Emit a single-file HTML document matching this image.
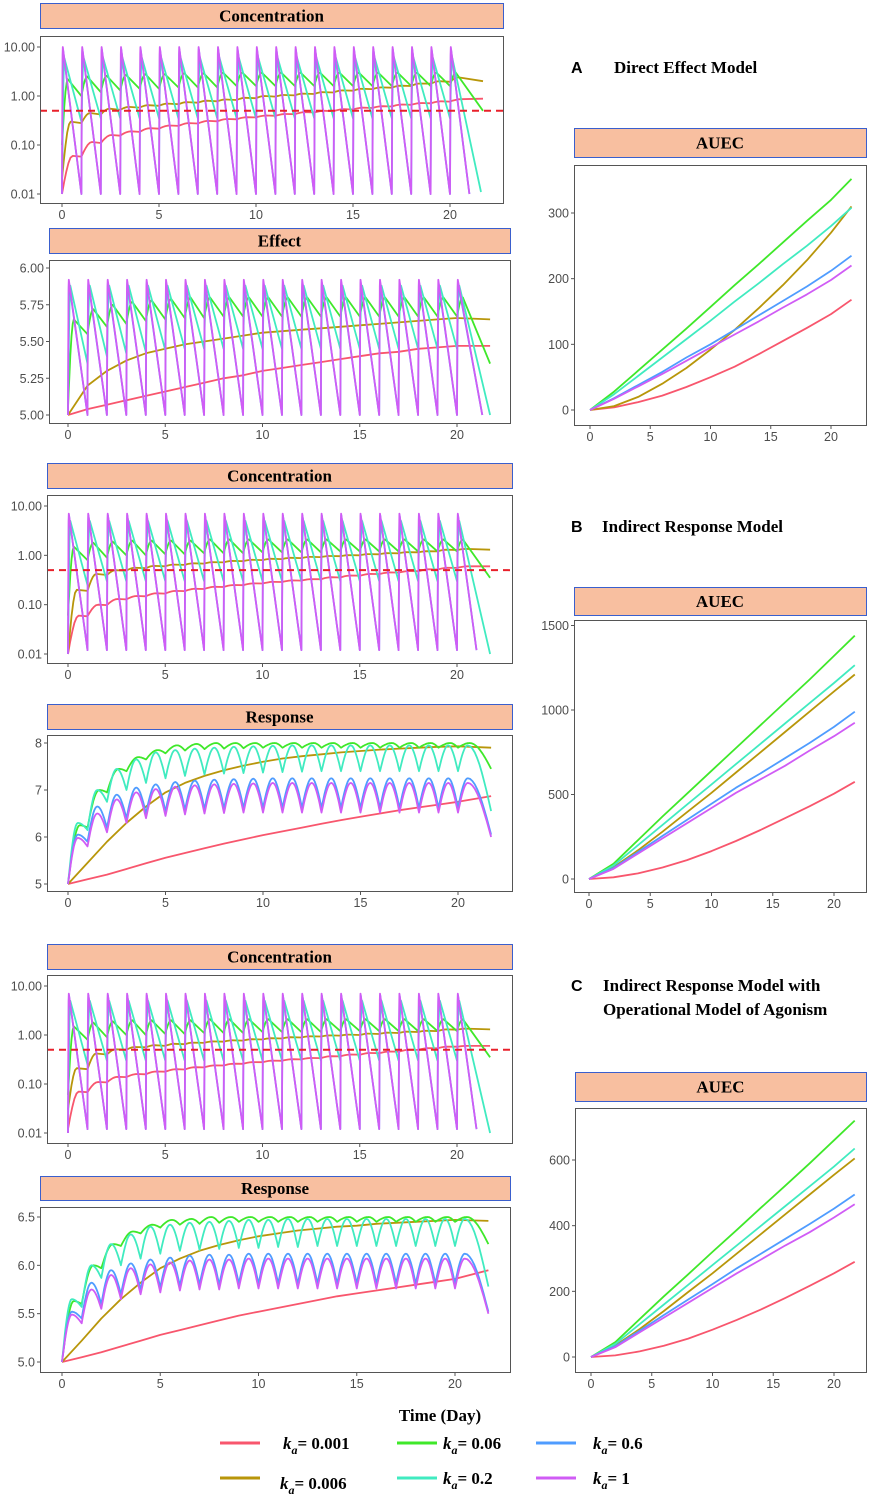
<!DOCTYPE html>
<html><head><meta charset="utf-8"><title>PK/PD model simulations</title>
<style>
html,body{margin:0;padding:0;background:#fff;}
svg{display:block;}
</style></head>
<body>
<svg id="fig" width="872" height="1494" viewBox="0 0 872 1494" xmlns="http://www.w3.org/2000/svg">
<rect x="0" y="0" width="872" height="1494" fill="#fff"/>
<g font-family="'Liberation Sans',sans-serif" font-weight="bold">
<text x="571" y="73" font-size="16">A</text>
<text x="571" y="532" font-size="16">B</text>
<text x="571" y="991" font-size="16">C</text>
</g>
<g font-family="'Liberation Serif',serif" font-weight="bold" font-size="17" fill="#000">
<text x="614" y="73">Direct Effect Model</text>
<text x="602" y="532">Indirect Response Model</text>
<text x="603" y="991">Indirect Response Model with</text>
<text x="603" y="1015">Operational Model of Agonism</text>
<text x="440" y="1421" text-anchor="middle">Time (Day)</text>
</g>
<g id="legend" font-family="'Liberation Serif',serif" font-weight="bold" font-size="17"></g>
</svg>
<script>
// ---------- Data ----------
const days = [0,1,2,3,4,5,6,7,8,9,10,11,12,13,14,15,16,17,18,19,20];
const xTicks = [0,5,10,15,20];
const seriesNames = ['ka=0.001','ka=0.006','ka=0.06','ka=0.2','ka=0.6','ka=1'];
const colors = ['#F8566D','#B8960A','#3FE82A','#40EBC0','#4F9CFF','#D05CF5'];

// Concentration A
const concA_pink_tr  = [0.01,0.058,0.11,0.155,0.185,0.215,0.245,0.275,0.305,0.335,0.365,0.395,0.425,0.46,0.49,0.53,0.57,0.61,0.66,0.71,0.77,0.88];
const concA_pink_pk  = [0.06,0.115,0.16,0.19,0.22,0.25,0.28,0.31,0.34,0.37,0.4,0.43,0.47,0.5,0.54,0.58,0.62,0.67,0.72,0.78,0.86];
const concA_olive_tr = [0.02,0.28,0.42,0.52,0.58,0.63,0.68,0.73,0.78,0.83,0.9,0.97,1.03,1.1,1.18,1.28,1.38,1.48,1.6,1.78,1.95,2.0];
const concA_olive_pk = [0.3,0.45,0.55,0.6,0.65,0.7,0.75,0.8,0.85,0.92,1.0,1.05,1.12,1.2,1.3,1.4,1.5,1.62,1.8,2.0,2.4];
const concA_green_tr = [0.1,1.0,1.2,1.3,1.4,1.4,1.5,1.5,1.5,1.6,1.6,1.6,1.6,1.6,1.6,1.6,1.6,1.6,1.6,1.6,1.6,0.5];
const concA_green_pk = [2.2,2.5,2.6,2.7,2.8,2.8,2.9,2.9,3,3,3,3,3,3,3,3,3,3,3,3,3];
const concA_aqua_tr  = [0.01,0.3,0.35,0.35,0.35,0.35,0.35,0.35,0.35,0.35,0.35,0.35,0.35,0.35,0.35,0.35,0.35,0.35,0.35,0.35,0.35,0.011];
const concA_aqua_pk  = [6,6,6,6,6,6,6,6,6,6,6,6,6,6,6,6,6,6,6,6,6];
const concA_blue_tr  = [0.01,0.01,0.01,0.01,0.01,0.01,0.01,0.01,0.01,0.01,0.01,0.01,0.01,0.01,0.01,0.01,0.01,0.01,0.01,0.01,0.01,0.01];
const concA_blue_pk  = [9,9,9,9,9,9,9,9,9,9,9,9,9,9,9,9,9,9,9,9,9];
const concA_purple_tr= [0.01,0.01,0.01,0.01,0.01,0.01,0.01,0.01,0.01,0.01,0.01,0.01,0.01,0.01,0.01,0.01,0.01,0.01,0.01,0.01,0.01,0.01];
const concA_purple_pk= [10,10,10,10,10,10,10,10,10,10,10,10,10,10,10,10,10,10,10,10,10];
const concThreshold = 0.5;

// Effect A
const effA_pink_tr  = [5.0,5.04,5.07,5.1,5.13,5.16,5.19,5.22,5.25,5.27,5.3,5.32,5.34,5.36,5.38,5.4,5.42,5.43,5.45,5.46,5.47,5.47];
const effA_olive_tr = [5.0,5.2,5.3,5.37,5.42,5.45,5.48,5.5,5.52,5.54,5.56,5.57,5.58,5.59,5.6,5.61,5.62,5.63,5.64,5.65,5.66,5.65];
const effA_green_tr = [5.05,5.55,5.6,5.62,5.64,5.65,5.66,5.66,5.67,5.67,5.67,5.67,5.67,5.67,5.67,5.67,5.67,5.67,5.67,5.67,5.67,5.35];
const effA_green_pk = [5.65,5.72,5.75,5.77,5.78,5.79,5.8,5.8,5.8,5.8,5.8,5.8,5.8,5.8,5.8,5.8,5.8,5.8,5.8,5.8,5.8];
const effA_aqua_tr  = [5.0,5.35,5.4,5.42,5.43,5.44,5.45,5.45,5.45,5.45,5.45,5.45,5.45,5.45,5.45,5.45,5.45,5.45,5.45,5.45,5.45,5.0];
const effA_aqua_pk  = [5.88,5.88,5.88,5.88,5.88,5.88,5.88,5.88,5.88,5.88,5.88,5.88,5.88,5.88,5.88,5.88,5.88,5.88,5.88,5.88,5.88];
const effA_blue_tr  = [5,5,5,5,5,5,5,5,5,5,5,5,5,5,5,5,5,5,5,5,5,5];
const effA_blue_pk  = [5.9,5.9,5.9,5.9,5.9,5.9,5.9,5.9,5.9,5.9,5.9,5.9,5.9,5.9,5.9,5.9,5.9,5.9,5.9,5.9,5.9];
const effA_purple_tr= [5,5,5,5,5,5,5,5,5,5,5,5,5,5,5,5,5,5,5,5,5,5];
const effA_purple_pk= [5.92,5.92,5.92,5.92,5.92,5.92,5.92,5.92,5.92,5.92,5.92,5.92,5.92,5.92,5.92,5.92,5.92,5.92,5.92,5.92,5.92];

// Concentration B
const concB_pink_tr  = [0.01,0.058,0.098,0.128,0.148,0.168,0.188,0.208,0.228,0.248,0.268,0.288,0.308,0.328,0.356,0.386,0.416,0.446,0.476,0.516,0.556,0.6];
const concB_pink_pk  = [0.06,0.1,0.13,0.15,0.17,0.19,0.21,0.23,0.25,0.27,0.29,0.31,0.33,0.36,0.39,0.42,0.45,0.48,0.52,0.56,0.6];
const concB_olive_tr = [0.01,0.19,0.4,0.49,0.55,0.6,0.64,0.68,0.72,0.76,0.8,0.84,0.88,0.92,0.96,1.0,1.05,1.1,1.15,1.2,1.28,1.3];
const concB_olive_pk = [0.2,0.42,0.5,0.56,0.61,0.65,0.69,0.73,0.77,0.81,0.85,0.89,0.93,0.97,1.01,1.06,1.11,1.16,1.21,1.3,1.35];
const concB_green_tr = [0.06,0.8,0.9,1.0,1.0,1.05,1.05,1.1,1.1,1.1,1.15,1.15,1.15,1.15,1.2,1.2,1.2,1.2,1.2,1.2,1.2,0.35];
const concB_green_pk = [1.5,1.8,1.9,2,2,2,2,2.1,2.1,2.1,2.1,2.1,2.1,2.1,2.1,2.1,2.1,2.1,2.1,2.1,2.1];
const concB_aqua_tr  = [0.01,0.25,0.3,0.3,0.3,0.3,0.3,0.3,0.3,0.3,0.3,0.3,0.3,0.3,0.3,0.3,0.3,0.3,0.3,0.3,0.3,0.01];
const concB_aqua_pk  = [5,5,5,5,5,5,5,5,5,5,5,5,5,5,5,5,5,5,5,5,5];
const concB_blue_tr  = [0.01,0.012,0.012,0.012,0.012,0.012,0.012,0.012,0.012,0.012,0.012,0.012,0.012,0.012,0.012,0.012,0.012,0.012,0.012,0.012,0.012,0.012];
const concB_blue_pk  = [6.5,6.5,6.5,6.5,6.5,6.5,6.5,6.5,6.5,6.5,6.5,6.5,6.5,6.5,6.5,6.5,6.5,6.5,6.5,6.5,6.5];
const concB_purple_tr= [0.01,0.012,0.012,0.012,0.012,0.012,0.012,0.012,0.012,0.012,0.012,0.012,0.012,0.012,0.012,0.012,0.012,0.012,0.012,0.012,0.012,0.012];
const concB_purple_pk= [7,7,7,7,7,7,7,7,7,7,7,7,7,7,7,7,7,7,7,7,7];

// Response B
const respB_pink_tr  = [5,5.1,5.2,5.32,5.44,5.56,5.66,5.76,5.86,5.95,6.04,6.12,6.2,6.28,6.36,6.43,6.5,6.57,6.63,6.69,6.75,6.87];
const respB_olive_tr = [5,5.45,5.9,6.3,6.65,6.95,7.15,7.3,7.42,7.52,7.6,7.67,7.72,7.76,7.8,7.83,7.86,7.88,7.9,7.92,7.93,7.9];
const respB_green_tr = [5,6.2,6.95,7.4,7.65,7.78,7.84,7.87,7.88,7.89,7.9,7.9,7.9,7.9,7.9,7.9,7.9,7.9,7.9,7.9,7.9,7.45];
const respB_green_pk = [6.25,7.0,7.45,7.7,7.85,7.95,7.98,8.0,8.0,8.0,8.0,8.0,8.0,8.0,8.0,8.0,8.0,8.0,8.0,8.0,8.0];
const respB_aqua_tr  = [5,6.15,6.75,7.0,7.15,7.25,7.3,7.33,7.35,7.36,7.37,7.38,7.39,7.4,7.4,7.4,7.4,7.4,7.4,7.4,7.4,6.55];
const respB_aqua_pk  = [6.3,7.0,7.45,7.65,7.8,7.85,7.88,7.9,7.92,7.93,7.94,7.95,7.95,7.95,7.95,7.95,7.95,7.95,7.95,7.95,7.95];
const respB_blue_tr  = [5,5.9,6.2,6.4,6.5,6.55,6.58,6.6,6.61,6.62,6.62,6.62,6.62,6.62,6.62,6.62,6.62,6.62,6.62,6.62,6.62,6.05];
const respB_blue_pk  = [6.05,6.65,6.9,7.05,7.12,7.17,7.2,7.22,7.23,7.24,7.25,7.25,7.25,7.25,7.25,7.25,7.25,7.25,7.25,7.25,7.25];
const respB_purple_tr= [5,5.8,6.1,6.3,6.4,6.45,6.48,6.5,6.51,6.52,6.52,6.52,6.52,6.52,6.52,6.52,6.52,6.52,6.52,6.52,6.52,6.0];
const respB_purple_pk= [5.98,6.5,6.8,6.95,7.02,7.07,7.1,7.12,7.13,7.14,7.15,7.15,7.15,7.15,7.15,7.15,7.15,7.15,7.15,7.15,7.15];

// Concentration C
const concC_pink_tr  = [0.012,0.068,0.108,0.138,0.158,0.178,0.198,0.218,0.238,0.258,0.278,0.298,0.318,0.338,0.366,0.396,0.426,0.456,0.496,0.536,0.576,0.6];
const concC_pink_pk  = [0.07,0.11,0.14,0.16,0.18,0.2,0.22,0.24,0.26,0.28,0.3,0.32,0.34,0.37,0.4,0.43,0.46,0.5,0.54,0.58,0.6];
const concC_olive_tr = [0.03,0.2,0.4,0.5,0.56,0.6,0.65,0.69,0.73,0.77,0.81,0.85,0.89,0.93,0.97,1.0,1.05,1.1,1.15,1.2,1.28,1.3];
const concC_olive_pk = [0.21,0.42,0.51,0.57,0.62,0.66,0.7,0.74,0.78,0.82,0.86,0.9,0.94,0.98,1.02,1.07,1.12,1.17,1.22,1.3,1.35];
const concC_green_tr = [0.06,0.8,0.9,1.0,1.0,1.05,1.05,1.1,1.1,1.1,1.15,1.15,1.15,1.15,1.2,1.2,1.2,1.2,1.2,1.2,1.2,0.35];
const concC_green_pk = [1.5,1.8,1.9,2,2,2,2,2.1,2.1,2.1,2.1,2.1,2.1,2.1,2.1,2.1,2.1,2.1,2.1,2.1,2.1];
const concC_aqua_tr  = [0.01,0.25,0.3,0.3,0.3,0.3,0.3,0.3,0.3,0.3,0.3,0.3,0.3,0.3,0.3,0.3,0.3,0.3,0.3,0.3,0.3,0.01];
const concC_aqua_pk  = [5,5,5,5,5,5,5,5,5,5,5,5,5,5,5,5,5,5,5,5,5];
const concC_blue_tr  = [0.01,0.012,0.012,0.012,0.012,0.012,0.012,0.012,0.012,0.012,0.012,0.012,0.012,0.012,0.012,0.012,0.012,0.012,0.012,0.012,0.012,0.012];
const concC_blue_pk  = [6.5,6.5,6.5,6.5,6.5,6.5,6.5,6.5,6.5,6.5,6.5,6.5,6.5,6.5,6.5,6.5,6.5,6.5,6.5,6.5,6.5];
const concC_purple_tr= [0.01,0.012,0.012,0.012,0.012,0.012,0.012,0.012,0.012,0.012,0.012,0.012,0.012,0.012,0.012,0.012,0.012,0.012,0.012,0.012,0.012,0.012];
const concC_purple_pk= [7,7,7,7,7,7,7,7,7,7,7,7,7,7,7,7,7,7,7,7,7];

// Response C
const respC_pink_tr  = [5,5.05,5.1,5.16,5.22,5.28,5.33,5.38,5.43,5.48,5.52,5.56,5.6,5.64,5.68,5.71,5.74,5.77,5.8,5.83,5.86,5.95];
const respC_olive_tr = [5,5.22,5.45,5.65,5.82,5.97,6.07,6.15,6.21,6.26,6.3,6.33,6.36,6.38,6.4,6.41,6.43,6.44,6.45,6.46,6.47,6.46];
const respC_green_tr = [5,5.6,5.97,6.2,6.33,6.39,6.42,6.43,6.44,6.45,6.45,6.45,6.45,6.45,6.45,6.45,6.45,6.45,6.45,6.45,6.45,6.22];
const respC_green_pk = [5.63,6.0,6.22,6.35,6.42,6.47,6.48,6.5,6.5,6.5,6.5,6.5,6.5,6.5,6.5,6.5,6.5,6.5,6.5,6.5,6.5];
const respC_aqua_tr  = [5,5.57,5.87,6.0,6.07,6.12,6.15,6.16,6.17,6.18,6.18,6.19,6.19,6.2,6.2,6.2,6.2,6.2,6.2,6.2,6.2,5.78];
const respC_aqua_pk  = [5.65,6.0,6.22,6.32,6.4,6.42,6.44,6.45,6.46,6.47,6.47,6.48,6.48,6.48,6.48,6.48,6.48,6.48,6.48,6.48,6.48];
const respC_blue_tr  = [5,5.45,5.6,5.7,5.75,5.77,5.79,5.8,5.8,5.81,5.81,5.81,5.81,5.81,5.81,5.81,5.81,5.81,5.81,5.81,5.81,5.52];
const respC_blue_pk  = [5.52,5.82,5.95,6.02,6.06,6.08,6.1,6.11,6.11,6.12,6.12,6.12,6.12,6.12,6.12,6.12,6.12,6.12,6.12,6.12,6.12];
const respC_purple_tr= [5,5.4,5.55,5.65,5.7,5.72,5.74,5.75,5.75,5.76,5.76,5.76,5.76,5.76,5.76,5.76,5.76,5.76,5.76,5.76,5.76,5.5];
const respC_purple_pk= [5.49,5.75,5.9,5.97,6.01,6.03,6.05,6.06,6.06,6.07,6.07,6.07,6.07,6.07,6.07,6.07,6.07,6.07,6.07,6.07,6.07];

// AUEC
const aDays = [0,2,4,6,8,10,12,14,16,18,20,21.7];
const aucA_pink   = [0,4,12,22,35,50,66,85,105,125,146,168];
const aucA_olive  = [0,6,20,40,64,92,122,155,190,228,270,310];
const aucA_green  = [0,28,60,92,124,157,190,222,255,288,320,352];
const aucA_aqua   = [0,24,52,80,108,136,165,193,222,250,280,308];
const aucA_blue   = [0,18,38,58,80,100,122,144,166,188,212,235];
const aucA_purple = [0,17,36,55,75,95,115,135,156,176,198,220];
const aucB_pink   = [0,10,33,68,112,165,225,290,360,430,505,575];
const aucB_olive  = [0,70,170,280,395,510,630,750,870,990,1110,1210];
const aucB_green  = [0,90,230,370,505,640,775,910,1045,1180,1320,1440];
const aucB_aqua   = [0,80,200,320,440,560,680,800,920,1040,1160,1265];
const aucB_blue   = [0,65,160,255,350,445,540,625,715,805,900,990];
const aucB_purple = [0,60,150,240,330,420,510,590,670,760,845,925];
const aucC_pink   = [0,5,17,34,56,83,113,145,180,217,255,290];
const aucC_olive  = [0,35,85,140,198,255,315,375,435,495,555,605];
const aucC_green  = [0,45,115,185,252,320,387,455,522,590,660,720];
const aucC_aqua   = [0,40,100,160,220,280,340,400,460,520,580,635];
const aucC_blue   = [0,33,80,128,175,222,270,315,360,405,452,495];
const aucC_purple = [0,30,75,120,165,210,255,297,340,380,425,465];

const concTicks = [10,1,0.1,0.01];
const concTickLabels = ['10.00','1.00','0.10','0.01'];
const effTicks = [6,5.75,5.5,5.25,5];
const effTickLabels = ['6.00','5.75','5.50','5.25','5.00'];
const respBTicks = [8,7,6,5];
const respBTickLabels = ['8','7','6','5'];
const respCTicks = [6.5,6,5.5,5];
const respCTickLabels = ['6.5','6.0','5.5','5.0'];
const aucATicks = [300,200,100,0];
const aucBTicks = [1500,1000,500,0];
const aucCTicks = [600,400,200,0];

// ---------- Drawing ----------
const NS = 'http://www.w3.org/2000/svg';
const svg = document.getElementById('fig');
function mk(tag, attrs, parent){
  const e = document.createElementNS(NS, tag);
  for (const k in attrs) e.setAttribute(k, attrs[k]);
  (parent || svg).appendChild(e);
  return e;
}
let clipId = 0;

function makeY(m){
  if (m.log){
    const a = Math.log10(m.v1), b = Math.log10(m.v2);
    return v => m.p1 + (Math.log10(v) - a) / (b - a) * (m.p2 - m.p1);
  }
  return v => m.p1 + (v - m.v1) / (m.v2 - m.v1) * (m.p2 - m.p1);
}

function frame(cfg, X, Y){
  const [bx,by,bw,bh] = cfg.box;
  const [hx,hy,hw,hh,ht] = cfg.head;
  const g = mk('g', {});
  
  
  const hr = mk('rect', {x:hx+0.5, y:hy+0.5, width:hw, height:hh, fill:'#F8BFA0', stroke:'#3A5FCD', 'stroke-width':1}, g);
  
  
  const htx = mk('text', {x:hx+hw/2, y:hy+hh/2+6, 'text-anchor':'middle', 'font-family':"'Liberation Serif',serif", 'font-weight':'bold', 'font-size':17}, g);
  htx.textContent = ht;
  
  
  const br = mk('rect', {x:bx+0.5, y:by+0.5, width:bw, height:bh, fill:'#fff', stroke:'#555', 'stroke-width':1}, g);
  
  
  cfg.ticks.forEach((v,i) => {
    const py = Y(v);
    const tl = mk('line', {x1:bx-3, x2:bx, y1:py, y2:py, stroke:'#555', 'stroke-width':1}, g);
    
    
    const tt = mk('text', {x:bx-5, y:py+4.5, 'text-anchor':'end', 'font-family':"'Liberation Sans',sans-serif", 'font-size':12.5, fill:'#4d4d4d'}, g);
    tt.textContent = cfg.tickLabels[i];
    
    
  });
  xTicks.forEach(v => {
    const px = X(v);
    const tl = mk('line', {x1:px, x2:px, y1:by+bh+1, y2:by+bh+4, stroke:'#555', 'stroke-width':1}, g);
    
    
    const tt = mk('text', {x:px, y:by+bh+16, 'text-anchor':'middle', 'font-family':"'Liberation Sans',sans-serif", 'font-size':12.5, fill:'#4d4d4d'}, g);
    tt.textContent = String(v);
    
    
  });
  clipId++;
  const cp = mk('clipPath', {id:'cp'+clipId}, g);
  mk('rect', {x:bx+1, y:by+1, width:bw-1, height:bh-1}, cp);
  const lg = mk('g', {'clip-path':'url(#cp'+clipId+')'}, g);
  
  
  return lg;
}

function timePanel(cfg){
  const X = t => cfg.x0 + t / 20 * (cfg.x20 - cfg.x0);
  const Y = makeY(cfg.ymap);
  const lg = frame(cfg, X, Y);
  cfg.series.forEach(s => {
    const pts = [];
    const tr = s.tr, pk = s.pk;
    for (let i = 0; i < days.length; i++){
      const d = days[i];
      const t1 = i < days.length - 1 ? days[i+1] : s.tEnd;
      const L = t1 - d;
      const y0 = Y(tr[i]), y1 = Y(tr[i+1]);
      if (!pk){ pts.push([X(d), y0]); if (i === days.length-1) pts.push([X(t1), y1]); continue; }
      const yp = Y(pk[i]);
      if (cfg.mode === 'saw'){
        const r = Math.min(s.rise, L*0.9);
        for (let k = 0; k <= 5; k++){ const f = k/5; pts.push([X(d + r*f), y0 + (yp-y0)*Math.sin(Math.PI/2*f)]); }
        pts.push([X(t1), y1]);
      } else {
        const p = s.rise * (i < days.length-1 ? 1 : 1/L);
        const N = 10;
        for (let k = 0; k <= N; k++){ const f = k/N*p; pts.push([X(d + f*L), y0 + (yp-y0)*Math.sin(Math.PI/2*k/N)]); }
        for (let k = 1; k <= N; k++){ const f = p + k/N*(1-p); pts.push([X(d + f*L), yp + (y1-yp)*(1-Math.cos(Math.PI/2*k/N))]); }
      }
    }
    const pl = mk('polyline', {points: pts.map(p => p[0].toFixed(1)+','+p[1].toFixed(1)).join(' '), fill:'none', stroke:s.color, 'stroke-width':1.8, 'stroke-linejoin':'round'}, lg);
    
    
  });
  if (cfg.hline !== undefined){
    const py = Y(cfg.hline);
    const hl = mk('line', {x1:cfg.box[0], x2:cfg.box[0]+cfg.box[2], y1:py, y2:py, stroke:'#E8202A', 'stroke-width':2, 'stroke-dasharray':'7,5'}, lg);
    
    
  }
}

function aucPanel(cfg){
  const X = t => cfg.x0 + t / 20 * (cfg.x20 - cfg.x0);
  const Y = makeY(cfg.ymap);
  const lg = frame(cfg, X, Y);
  cfg.series.forEach(s => {
    const pl = mk('polyline', {points: aDays.map((t,i) => X(t).toFixed(1)+','+Y(s.v[i]).toFixed(1)).join(' '), fill:'none', stroke:s.color, 'stroke-width':1.8, 'stroke-linejoin':'round'}, lg);
    
    
  });
}

function S(i, tr, pk, rise, tEnd){ return {name:seriesNames[i], color:colors[i], tr:tr, pk:pk, rise:rise, tEnd:tEnd}; }

// Panel 1: Concentration A
timePanel({name:'concentration-panel-a', box:[40,36,463,167], head:[40,3,463,25,'Concentration'], x0:62, x20:450,
  ymap:{log:true, v1:10, p1:47, v2:0.01, p2:194}, ticks:concTicks, tickLabels:concTickLabels, mode:'saw', hline:concThreshold,
  series:[S(0,concA_pink_tr,concA_pink_pk,0.55,21.7), S(1,concA_olive_tr,concA_olive_pk,0.45,21.7), S(2,concA_green_tr,concA_green_pk,0.3,21.7),
          S(3,concA_aqua_tr,concA_aqua_pk,0.12,21.6), S(4,concA_blue_tr,concA_blue_pk,0.05,21.0), S(5,concA_purple_tr,concA_purple_pk,0.04,21.0)]});
// Panel 2: Effect A
timePanel({name:'effect-panel-a', box:[49,260,461,163], head:[49,228,461,25,'Effect'], x0:68, x20:457,
  ymap:{log:false, v1:6, p1:268, v2:5, p2:415}, ticks:effTicks, tickLabels:effTickLabels, mode:'saw',
  series:[S(0,effA_pink_tr,null,0,21.7), S(1,effA_olive_tr,null,0,21.7), S(2,effA_green_tr,effA_green_pk,0.3,21.7),
          S(3,effA_aqua_tr,effA_aqua_pk,0.12,21.7), S(4,effA_blue_tr,effA_blue_pk,0.05,21.3), S(5,effA_purple_tr,effA_purple_pk,0.04,21.3)]});
// Panel 3: Concentration B
timePanel({name:'concentration-panel-b', box:[47,495,465,168], head:[47,463,465,25,'Concentration'], x0:68, x20:457,
  ymap:{log:true, v1:10, p1:506, v2:0.01, p2:654}, ticks:concTicks, tickLabels:concTickLabels, mode:'saw', hline:concThreshold,
  series:[S(0,concB_pink_tr,concB_pink_pk,0.55,21.7), S(1,concB_olive_tr,concB_olive_pk,0.45,21.7), S(2,concB_green_tr,concB_green_pk,0.3,21.7),
          S(3,concB_aqua_tr,concB_aqua_pk,0.12,21.7), S(4,concB_blue_tr,concB_blue_pk,0.05,21.0), S(5,concB_purple_tr,concB_purple_pk,0.04,21.0)]});
// Panel 4: Response B
timePanel({name:'response-panel-b', box:[47,735,465,156], head:[47,704,465,25,'Response'], x0:68, x20:458,
  ymap:{log:false, v1:8, p1:743, v2:5, p2:884}, ticks:respBTicks, tickLabels:respBTickLabels, mode:'arc',
  series:[S(0,respB_pink_tr,null,0,21.7), S(1,respB_olive_tr,null,0,21.7), S(2,respB_green_tr,respB_green_pk,0.6,21.7),
          S(3,respB_aqua_tr,respB_aqua_pk,0.5,21.7), S(4,respB_blue_tr,respB_blue_pk,0.5,21.7), S(5,respB_purple_tr,respB_purple_pk,0.5,21.7)]});
// Panel 5: Concentration C
timePanel({name:'concentration-panel-c', box:[47,975,465,168], head:[47,944,465,25,'Concentration'], x0:68, x20:457,
  ymap:{log:true, v1:10, p1:986, v2:0.01, p2:1133}, ticks:concTicks, tickLabels:concTickLabels, mode:'saw', hline:concThreshold,
  series:[S(0,concC_pink_tr,concC_pink_pk,0.55,21.7), S(1,concC_olive_tr,concC_olive_pk,0.45,21.7), S(2,concC_green_tr,concC_green_pk,0.3,21.7),
          S(3,concC_aqua_tr,concC_aqua_pk,0.12,21.7), S(4,concC_blue_tr,concC_blue_pk,0.05,21.0), S(5,concC_purple_tr,concC_purple_pk,0.04,21.0)]});
// Panel 6: Response C
timePanel({name:'response-panel-c', box:[40,1207,470,165], head:[40,1176,470,24,'Response'], x0:62, x20:455,
  ymap:{log:false, v1:6.5, p1:1217, v2:5, p2:1362}, ticks:respCTicks, tickLabels:respCTickLabels, mode:'arc',
  series:[S(0,respC_pink_tr,null,0,21.7), S(1,respC_olive_tr,null,0,21.7), S(2,respC_green_tr,respC_green_pk,0.6,21.7),
          S(3,respC_aqua_tr,respC_aqua_pk,0.5,21.7), S(4,respC_blue_tr,respC_blue_pk,0.5,21.7), S(5,respC_purple_tr,respC_purple_pk,0.5,21.7)]});

function A(i, v){ return {name:seriesNames[i], color:colors[i], v:v}; }
aucPanel({name:'auec-panel-a', box:[574,165,292,260], head:[574,128,292,29,'AUEC'], x0:590, x20:831,
  ymap:{log:false, v1:300, p1:213, v2:0, p2:410}, ticks:aucATicks, tickLabels:aucATicks.map(String),
  series:[A(0,aucA_pink),A(1,aucA_olive),A(2,aucA_green),A(3,aucA_aqua),A(4,aucA_blue),A(5,aucA_purple)]});
aucPanel({name:'auec-panel-b', box:[574,620,292,272], head:[574,587,292,28,'AUEC'], x0:589, x20:834,
  ymap:{log:false, v1:1000, p1:710, v2:0, p2:879}, ticks:aucBTicks, tickLabels:aucBTicks.map(String),
  series:[A(0,aucB_pink),A(1,aucB_olive),A(2,aucB_green),A(3,aucB_aqua),A(4,aucB_blue),A(5,aucB_purple)]});
aucPanel({name:'auec-panel-c', box:[575,1108,291,264], head:[575,1072,291,29,'AUEC'], x0:591, x20:834,
  ymap:{log:false, v1:600, p1:1160, v2:0, p2:1357}, ticks:aucCTicks, tickLabels:aucCTicks.map(String),
  series:[A(0,aucC_pink),A(1,aucC_olive),A(2,aucC_green),A(3,aucC_aqua),A(4,aucC_blue),A(5,aucC_purple)]});

// Legend
const legendLabels = ['= 0.001','= 0.006','= 0.06','= 0.2','= 0.6','= 1'];
const legendOrder = [0,2,4,1,3,5];
const legendLineX = [220,397,536];
const legendTextX = [283,443,593];
const legendRowY = [1443,1478];
const lgG = document.getElementById('legend');
legendOrder.forEach((si, k) => {
  const col = k % 3, row = Math.floor(k / 3);
  const y = legendRowY[row];
  const ln = mk('line', {x1:legendLineX[col], x2:legendLineX[col]+40, y1:y, y2:y, stroke:colors[si], 'stroke-width':3}, lgG);
  
  
  const tx = mk('text', {x:legendTextX[col]-(si===1?3:0), y:y+6+(si===1?5:0)}, lgG);
  
  
  const k1 = mk('tspan', {'font-style':'italic'}, tx); k1.textContent = 'k';
  const k2 = mk('tspan', {'font-style':'italic', 'font-size':12, dy:5}, tx); k2.textContent = 'a';
  const k3 = mk('tspan', {dy:-5}, tx); k3.textContent = legendLabels[si];
});
</script>
</body></html>
